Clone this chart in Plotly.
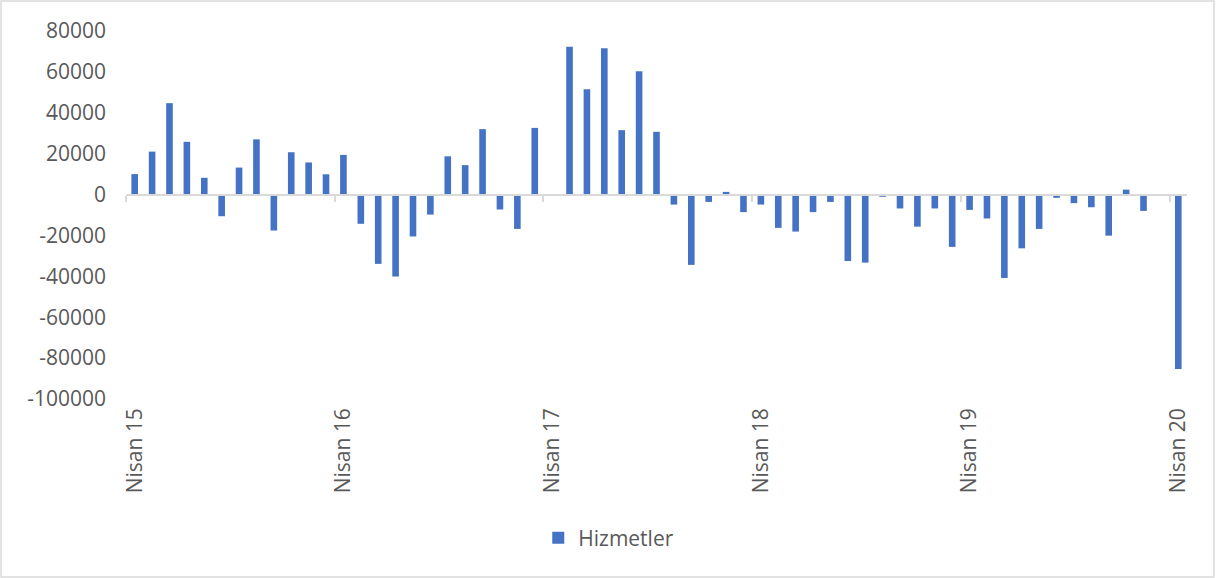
import plotly.graph_objects as go

# ---- data ----
month_names = ["Nisan", "Mayıs", "Haziran", "Temmuz", "Ağustos", "Eylül",
               "Ekim", "Kasım", "Aralık", "Ocak", "Şubat", "Mart"]
start_year = 15
values = [
    10000, 21000, 44700, 25800, 8200, -10600, 13200, 27000, -17600, 20700, 15700, 9900,
    19400, -14300, -33900, -40100, -20500, -9800, 18700, 14400, 32000, -7300, -16800, 32600,
    0, 72300, 51500, 71600, 31500, 60300, 30700, -4900, -34400, -3600, 1300, -8600,
    -4900, -16300, -18100, -8600, -3600, -32500, -33300, -1100, -6800, -15700, -6800, -25600,
    -7500, -11700, -40800, -26300, -16800, -1600, -4200, -6200, -20100, 2400, -8000, 0,
    -85300,
]
series_name = "Hizmetler"
y_ticks = [80000, 60000, 40000, 20000, 0, -20000, -40000, -60000, -80000, -100000]
y_ticktext = [str(v) for v in y_ticks]

# month labels (April 2015 .. April 2020)
labels = []
for i in range(len(values)):
    m = month_names[i % 12]
    yr = start_year + (i + 3) // 12
    labels.append(f"{m} {yr}")
x_idx = list(range(len(values)))
shown_idx = [i for i in x_idx if labels[i].startswith("Nisan")]
shown_text = [labels[i] for i in shown_idx]
boundary_ticks = [i - 0.5 for i in shown_idx[:-1]] + [shown_idx[-1] - 0.5]

FONT = "Open Sans"
TXT = "#595959"
GRID = "#d9d9d9"
FS = 21

fig = go.Figure()
fig.add_trace(go.Bar(
    x=x_idx, y=values, name=series_name,
    marker=dict(color="#4472C4", line=dict(width=0)),
    customdata=labels, hovertemplate="%{customdata}: %{y}<extra></extra>",
))
# invisible trace for the overlay axis that draws the zero line with tick marks
fig.add_trace(go.Scatter(x=[x_idx[0]], y=[0], xaxis="x2", mode="markers",
                         marker=dict(opacity=0), showlegend=False, hoverinfo="skip"))

y_min, y_max = -100000, 80000
zero_pos = (0 - y_min) / (y_max - y_min)

fig.update_layout(
    width=1216, height=578,
    margin=dict(l=126, r=29, t=31, b=179),
    paper_bgcolor="white", plot_bgcolor="white",
    font=dict(family=FONT, size=FS, color=TXT),
    bargap=0.62,
    showlegend=True,
    legend=dict(orientation="h", x=0.455, y=-0.378, xanchor="center", yanchor="middle",
                font=dict(size=FS, color=TXT)),
    xaxis=dict(range=[-0.5, len(values) - 0.5], tickmode="array",
               tickvals=shown_idx, ticktext=shown_text, tickangle=-90,
               showgrid=False, zeroline=False, showline=False, ticks="",
               ticklabelstandoff=4),
    xaxis2=dict(overlaying="x", matches="x", anchor="free", position=zero_pos,
                side="bottom", showline=True, linecolor=GRID, linewidth=2,
                ticks="outside", ticklen=6, tickwidth=2, tickcolor=GRID,
                tickmode="array", tickvals=boundary_ticks, showticklabels=False,
                showgrid=False, zeroline=False),
    yaxis=dict(range=[y_min, y_max], tickmode="array", tickvals=y_ticks,
               ticktext=y_ticktext, showgrid=False, zeroline=False,
               showline=False, ticks="", ticklabelstandoff=19),
)

# outer chart border
fig.add_shape(type="rect", xref="paper", yref="paper",
              x0=-0.1178, x1=1.0254, y0=-0.484, y1=1.0815,
              line=dict(color=GRID, width=1.5), fillcolor="rgba(0,0,0,0)", layer="below")

fig.write_html("out.html", config={"displayModeBar": False},
               post_script="document.body.style.margin='0';document.body.style.overflow='hidden';")
